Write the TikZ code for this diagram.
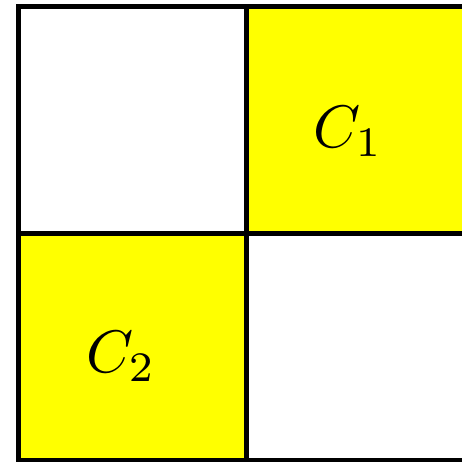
\documentclass[tikz,border=0pt]{standalone}
\usepackage{amsmath}
\usepackage{tikz}
\usetikzlibrary{positioning,calc}
\definecolor{cellyellow}{RGB}{255,255,0}
\newcommand{\Cone}{C_1}
\newcommand{\Ctwo}{C_2}

\begin{document}
\begin{tikzpicture}[x=1pt, y=-1pt, grid/.style={line width=5pt}, lbl/.style={scale=6}]
    \useasboundingbox (0,0) rectangle (461,462);
    % yellow cells
    \fill[cellyellow] (246,6.5) rectangle (473.5,233.5);
    \fill[cellyellow] (18.5,233.5) rectangle (246,460.5);
    % grid lines
    \draw[grid] (18.5,6.5) rectangle (473.5,460.5);
    \draw[grid] (246,6.5) -- (246,460.5);
    \draw[grid] (18.5,233.5) -- (473.5,233.5);
    \node[lbl] (c1) at (348,132) {$\Cone$};
    \node[lbl] (c2) at (121,356) {$\Ctwo$};
\end{tikzpicture}
\end{document}
